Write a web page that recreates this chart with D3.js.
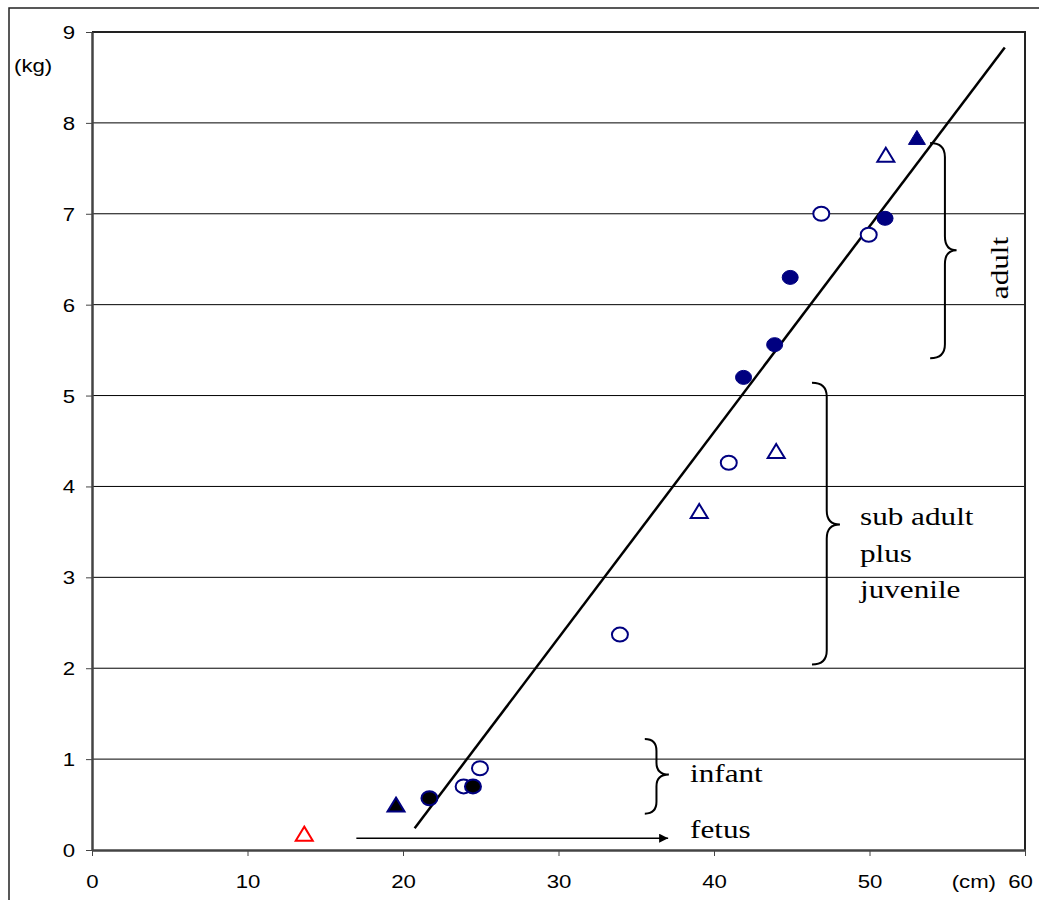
<!DOCTYPE html>
<html>
<head>
<meta charset="utf-8">
<script src="https://cdn.jsdelivr.net/npm/d3@7"></script>
<style>
  body { margin: 0; background: #fff; }
  svg { display: block; }
</style>
</head>
<body>
<script>
// values
const xTicks = [0, 10, 20, 30, 40, 50, 60];
const yTicks = [0, 1, 2, 3, 4, 5, 6, 7, 8, 9];

const darkCircleX = [21.7, 24.5];
const darkCircleY = [0.57, 0.70];
const solidCircleX = [41.9, 43.9, 44.9, 51.0];
const solidCircleY = [5.20, 5.56, 6.30, 6.95];
const openCircleX = [23.9, 24.95, 33.95, 40.95, 46.9, 49.95];
const openCircleY = [0.70, 0.90, 2.37, 4.26, 7.00, 6.77];
const darkTriangleX = [19.55];
const darkTriangleY = [0.50];
const solidTriangleX = [53.05];
const solidTriangleY = [7.84];
const openTriangleX = [51.05, 44.0, 39.05];
const openTriangleY = [7.65, 4.39, 3.73];
const fetusX = [13.65];
const fetusY = [0.18];

const fitX = [20.75, 58.7];
const fitY = [0.24, 8.83];
const arrowX = [17.0, 37.05];
const arrowY = 0.13;

// brace annotations: [end x, spine x, tip x, top y, mid y, bottom y]
const braces = [
  { name: "adult", box: [53.9, 54.85, 55.6, 7.78, 6.60, 5.41] },
  { name: "sub", box: [46.3, 47.25, 48.1, 5.14, 3.58, 2.04] },
  { name: "infant", box: [35.55, 36.3, 37.1, 1.22, 0.83, 0.40] }
];
const subLines = ["sub adult", "plus", "juvenile"];

const W = 1039, H = 900;
const navy = "#000080";
const margin = { left: 92, right: 1025, top: 32, bottom: 850 };

const svg = d3.select("body").append("svg").attr("width", W).attr("height", H);

const x = d3.scaleLinear().domain([0, 60]).range([margin.left, margin.right]);
const y = d3.scaleLinear().domain([0, 9]).range([margin.bottom, margin.top]);

// outer frame
svg.append("rect")
  .attr("x", 9).attr("y", 8).attr("width", W + 20).attr("height", H + 20)
  .attr("fill", "none").attr("stroke", "#222").attr("stroke-width", 1.5);

// gridlines
svg.append("g").selectAll("line")
  .data(yTicks.filter(d => d > 0 && d < 9))
  .join("line")
  .attr("x1", x(0)).attr("x2", x(60))
  .attr("y1", d => y(d)).attr("y2", d => y(d))
  .attr("stroke", "#000").attr("stroke-width", 1);

// top and right border of plot
svg.append("path")
  .attr("d", `M${x(0)},${y(9)}H${x(60)}V${y(0)}`)
  .attr("fill", "none").attr("stroke", "#222").attr("stroke-width", 2);

const sx = 1.2;
const axisFont = "Liberation Sans, Arial, sans-serif";

// x axis
const gx = svg.append("g")
  .attr("transform", `translate(0,${y(0)})`)
  .call(d3.axisBottom(x).tickValues(xTicks).tickSize(6).tickSizeOuter(0).tickFormat(d3.format("d")));
gx.select(".domain").attr("stroke", "#444").attr("stroke-width", 2.5);
gx.selectAll(".tick line").attr("stroke", "#444").attr("stroke-width", 1);
gx.selectAll(".tick text")
  .attr("x", null).attr("y", null).attr("dy", null)
  .attr("transform", d => `translate(${d === 60 ? -5 : 0},38) scale(${sx},1)`)
  .attr("font-family", axisFont).attr("font-size", 18.5).attr("fill", "#000");

// y axis
const gy = svg.append("g")
  .attr("transform", `translate(${x(0)},0)`)
  .call(d3.axisLeft(y).tickValues(yTicks).tickSize(6).tickSizeOuter(0).tickFormat(d3.format("d")));
gy.select(".domain").attr("stroke", "#444").attr("stroke-width", 2.5);
gy.selectAll(".tick line").attr("stroke", "#444").attr("stroke-width", 1);
gy.selectAll(".tick text")
  .attr("x", null).attr("y", null).attr("dy", null)
  .attr("text-anchor", "end")
  .attr("transform", `translate(-17,6.5) scale(${sx},1)`)
  .attr("font-family", axisFont).attr("font-size", 18.5).attr("fill", "#000");

// unit labels
svg.append("text")
  .attr("transform", `translate(14,72) scale(${sx},1)`)
  .attr("font-family", axisFont).attr("font-size", 18.5).text("(kg)");
svg.append("text")
  .attr("transform", `translate(${x(60) - 29},888) scale(${sx},1)`)
  .attr("text-anchor", "end")
  .attr("font-family", axisFont).attr("font-size", 18.5).text("(cm)");

// regression line
svg.append("line")
  .attr("x1", x(fitX[0])).attr("y1", y(fitY[0]))
  .attr("x2", x(fitX[1])).attr("y2", y(fitY[1]))
  .attr("stroke", "#000").attr("stroke-width", 2.5);

// fetus arrow
svg.append("defs").append("marker")
  .attr("id", "head").attr("viewBox", "0 0 10 10")
  .attr("refX", 10).attr("refY", 5)
  .attr("markerWidth", 14).attr("markerHeight", 9)
  .attr("markerUnits", "userSpaceOnUse").attr("orient", "auto")
  .append("path").attr("d", "M0,0L10,5L0,10Z").attr("fill", "#000");
svg.append("line")
  .attr("x1", x(arrowX[0])).attr("y1", y(arrowY))
  .attr("x2", x(arrowX[1])).attr("y2", y(arrowY))
  .attr("stroke", "#000").attr("stroke-width", 1.5)
  .attr("marker-end", "url(#head)");

// points
const zip = (xs, ys) => xs.map((v, i) => ({ x: v, y: ys[i] }));
const rx = 8, ry = 7;

function circles(data, fill, stroke, sw) {
  svg.append("g").selectAll("ellipse")
    .data(data).join("ellipse")
    .attr("cx", d => x(d.x)).attr("cy", d => y(d.y))
    .attr("rx", rx).attr("ry", ry)
    .attr("fill", fill).attr("stroke", stroke).attr("stroke-width", sw);
}
function triangles(data, fill, stroke, sw) {
  const hw = 8.5, hh = 7;
  svg.append("g").selectAll("path")
    .data(data).join("path")
    .attr("d", d => {
      const cx = x(d.x), cy = y(d.y);
      return `M${cx},${cy - hh}L${cx + hw},${cy + hh}L${cx - hw},${cy + hh}Z`;
    })
    .attr("fill", fill).attr("stroke", stroke).attr("stroke-width", sw)
    .attr("stroke-linejoin", "miter");
}

circles(zip(openCircleX, openCircleY), "#fff", navy, 2);
circles(zip(darkCircleX, darkCircleY), "#000", navy, 2);
circles(zip(solidCircleX, solidCircleY), navy, navy, 1);
triangles(zip(openTriangleX, openTriangleY), "#fff", navy, 2);
triangles(zip(darkTriangleX, darkTriangleY), "#000", navy, 2);
triangles(zip(solidTriangleX, solidTriangleY), navy, navy, 1);
triangles(zip(fetusX, fetusY), "#fff", "#ff0000", 2);

// braces
function bracePath(b) {
  const [e, s, t, top, mid, bot] = b;
  const X0 = x(e), XS = x(s), XT = x(t);
  const Y0 = y(top), YM = y(mid), Y1 = y(bot);
  const r = Math.min(14, (YM - Y0) / 3);
  return `M${X0},${Y0}Q${XS},${Y0} ${XS},${Y0 + r}` +
    `L${XS},${YM - r}Q${XS},${YM} ${XT},${YM}` +
    `Q${XS},${YM} ${XS},${YM + r}` +
    `L${XS},${Y1 - r}Q${XS},${Y1} ${X0},${Y1}`;
}
svg.append("g").selectAll("path")
  .data(braces).join("path")
  .attr("d", d => bracePath(d.box))
  .attr("fill", "none").attr("stroke", "#000").attr("stroke-width", 2);

// annotation labels
const serif = "Liberation Serif, Times New Roman, serif";
const lab = svg.append("g").attr("font-family", serif).attr("font-size", 26).attr("fill", "#000");
subLines.forEach((t, i) => {
  lab.append("text")
    .attr("transform", `translate(860,${525 + i * 36.5}) scale(${sx},1)`)
    .text(t);
});
lab.append("text").attr("transform", `translate(690,782) scale(${sx},1)`).text("infant");
lab.append("text").attr("transform", `translate(690,838) scale(${sx},1)`).text("fetus");
lab.append("text")
  .attr("transform", `translate(1008,268) rotate(-90) scale(1.2,1)`)
  .attr("text-anchor", "middle")
  .text("adult");
</script>
</body>
</html>
